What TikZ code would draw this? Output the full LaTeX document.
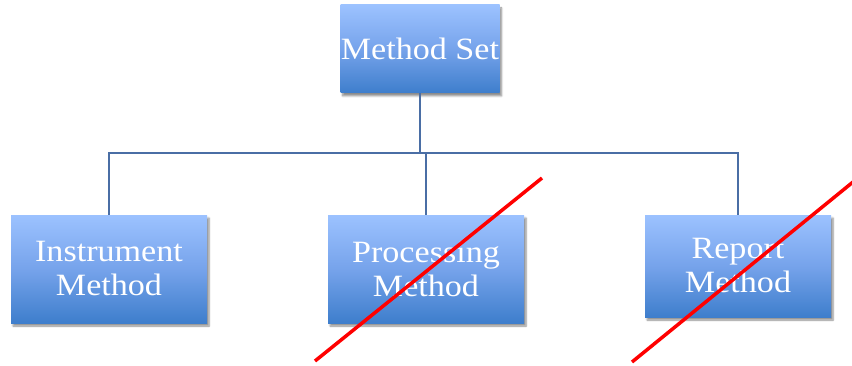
\documentclass[tikz,border=0pt]{standalone}
\usepackage{fontspec}
\setmainfont{Liberation Serif}[FakeStretch=1.1]
\usetikzlibrary{shadows.blur}
\definecolor{boxtop}{RGB}{156,194,255}
\definecolor{boxbot}{RGB}{62,126,204}
\definecolor{tree}{RGB}{74,110,165}
\tikzset{
  mbox/.style={rectangle, top color=boxtop, bottom color=boxbot, middle color={rgb,255:red,118;green,163;blue,235},
    draw=none, text=white, align=center, font=\fontsize{31}{34}\selectfont, inner sep=0pt,
    blur shadow={shadow xshift=2pt, shadow yshift=-3pt, shadow opacity=45, shadow blur steps=6}},
  treeline/.style={draw=tree, line width=1.8pt},
  cross/.style={draw=red, line width=3.5pt}
}
\begin{document}
\begin{tikzpicture}[x=1pt,y=1pt]
\useasboundingbox (0,0) rectangle (852,365);
\node[mbox, minimum width=159, minimum height=88] (top) at (420,316) {Method Set};
\node[mbox, minimum width=196, minimum height=108] (instr) at (109,96) {Instrument\\Method};
\node[mbox, minimum width=196, minimum height=108] (proc) at (426,96) {Processing\\Method};
\node[mbox, minimum width=186, minimum height=102] (rep) at (738,99) {Report\\Method};
\coordinate (bus) at (420,212);
\draw[treeline] (top.south) -- (top.south |- bus);
\draw[treeline] (instr.north) |- (rep.north |- bus) -- (rep.north);
\draw[treeline] (proc.north) -- (proc.north |- bus);
\coordinate (c1a) at (315,4);
\coordinate (c1b) at (542,187);
\coordinate (c2a) at (632,3);
\coordinate (c2b) at (853,183);
\draw[cross] (c1a) -- (c1b);
\draw[cross] (c2a) -- (c2b);
\end{tikzpicture}
\end{document}
